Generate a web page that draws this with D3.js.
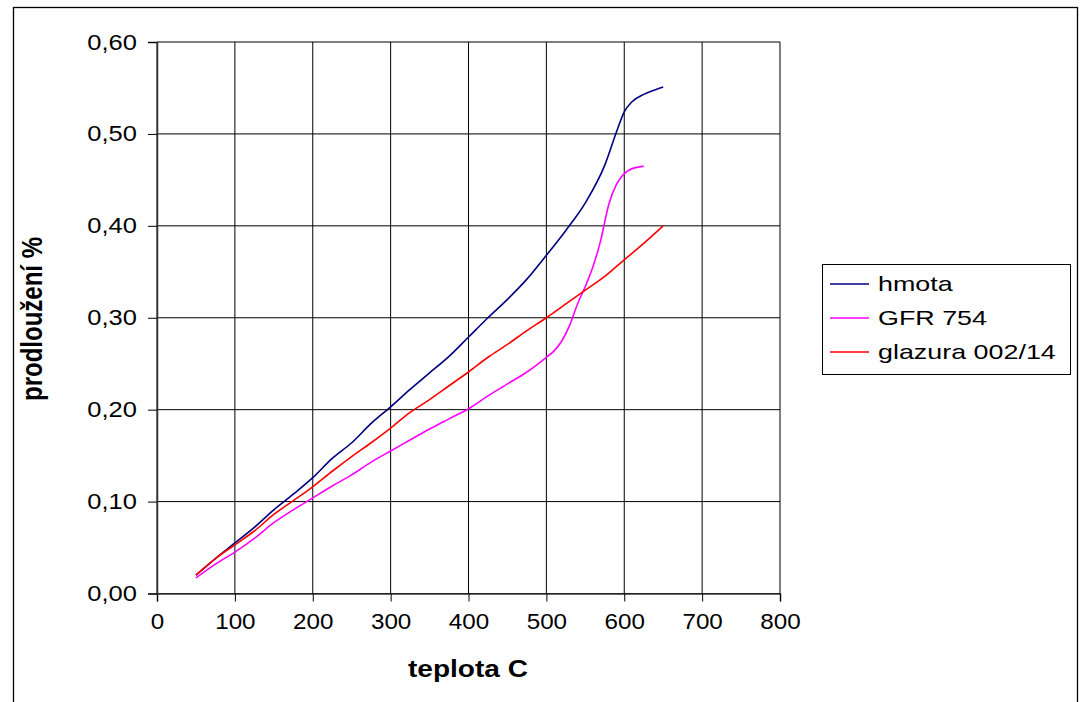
<!DOCTYPE html>
<html>
<head>
<meta charset="utf-8">
<script src="https://cdn.jsdelivr.net/npm/d3@7"></script>
<style>
  body { margin: 0; background: #fff; }
  text { font-family: "Liberation Sans", Arial, sans-serif; fill: #000; }
</style>
</head>
<body>
<div id="chart"></div>
<script>
// temperature (C) and elongation (%) for each sample
var hmotaX = [50, 75, 100, 125, 150, 175, 200, 225, 250, 275, 300, 325, 350, 375, 400, 425, 450, 475, 500, 525, 550, 575, 590, 600, 610, 625, 640, 650];
var hmotaY = [0.020, 0.038, 0.055, 0.072, 0.091, 0.108, 0.126, 0.147, 0.164, 0.185, 0.203, 0.222, 0.240, 0.258, 0.279, 0.300, 0.320, 0.342, 0.368, 0.395, 0.425, 0.466, 0.502, 0.524, 0.535, 0.543, 0.548, 0.551];

var gfrX = [50, 75, 100, 125, 150, 175, 200, 225, 250, 275, 300, 325, 350, 375, 400, 425, 450, 475, 500, 510, 520, 530, 540, 550, 560, 570, 580, 590, 597, 607, 625];
var gfrY = [0.017, 0.032, 0.045, 0.060, 0.077, 0.091, 0.104, 0.117, 0.129, 0.143, 0.155, 0.167, 0.179, 0.190, 0.201, 0.215, 0.228, 0.241, 0.257, 0.264, 0.275, 0.292, 0.315, 0.334, 0.356, 0.385, 0.423, 0.445, 0.454, 0.461, 0.465];

var glazX = [50, 75, 100, 125, 150, 175, 200, 225, 250, 275, 300, 325, 350, 375, 400, 425, 450, 475, 500, 525, 550, 575, 600, 625, 650];
var glazY = [0.020, 0.038, 0.053, 0.068, 0.086, 0.101, 0.116, 0.133, 0.149, 0.164, 0.180, 0.197, 0.211, 0.226, 0.241, 0.257, 0.271, 0.286, 0.300, 0.315, 0.330, 0.345, 0.363, 0.381, 0.400];

var seriesNames = ["hmota", "GFR 754", "glazura 002/14"];
var xTicks = [0, 100, 200, 300, 400, 500, 600, 700, 800];
var yTicks = [0, 0.1, 0.2, 0.3, 0.4, 0.5, 0.6];

var svgWidth = 1083, svgHeight = 702;
var margin = { top: 42, left: 157, right: 303, bottom: 108 };
var width = 780 - margin.left;
var height = 593.5 - margin.top;

var svg = d3.select("#chart").append("svg")
  .attr("width", svgWidth)
  .attr("height", svgHeight);

// outer frame
svg.append("rect")
  .attr("x", 13.5).attr("y", 7.5)
  .attr("width", 1064).attr("height", 720)
  .attr("fill", "none").attr("stroke", "#000").attr("stroke-width", 1.3);

var g = svg.append("g")
  .attr("transform", `translate(${margin.left}, ${margin.top})`);

var x = d3.scaleLinear().domain([0, 800]).range([0, width]);
var y = d3.scaleLinear().domain([0, 0.6]).range([height, 0]);

// grid
g.selectAll(".vgrid").data(xTicks).enter().append("line")
  .attr("x1", d => x(d)).attr("x2", d => x(d))
  .attr("y1", 0).attr("y2", height)
  .attr("stroke", "#000").attr("stroke-width", 1);
g.selectAll(".hgrid").data(yTicks).enter().append("line")
  .attr("x1", 0).attr("x2", width)
  .attr("y1", d => y(d)).attr("y2", d => y(d))
  .attr("stroke", "#000").attr("stroke-width", 1);

var fmt = d => d3.format(".2f")(d).replace(".", ",");

var bottomAxis = d3.axisBottom(x).tickValues(xTicks).tickSize(8).tickPadding(12);
var leftAxis = d3.axisLeft(y).tickValues(yTicks).tickFormat(fmt).tickSize(9).tickPadding(11);

var xg = g.append("g").attr("transform", `translate(0, ${height})`).call(bottomAxis);
var yg = g.append("g").call(leftAxis);

// the original picture is stretched sideways, so the text is too
function stretch(sel, sx) {
  sel.each(function() {
    var t = d3.select(this);
    var tx = +t.attr("x") || 0, ty = +t.attr("y") || 0;
    t.attr("x", 0).attr("y", 0)
      .attr("transform", `translate(${tx}, ${ty}) scale(${sx}, 1)`);
  });
}

[[xg, 1.1], [yg, 1.16]].forEach(function(p) {
  var a = p[0];
  a.select(".domain").attr("stroke", "#333").attr("stroke-width", 1.5);
  a.selectAll(".tick line").attr("stroke", "#000");
  a.selectAll("text").style("font-size", "22px").style("font-family", "Liberation Sans, Arial, sans-serif");
  stretch(a.selectAll("text"), p[1]);
});

var line = d3.line()
  .x(d => x(d[0]))
  .y(d => y(d[1]))
  .curve(d3.curveMonotoneX);

var series = [
  { name: seriesNames[0], xs: hmotaX, ys: hmotaY, color: "#000080" },
  { name: seriesNames[1], xs: gfrX, ys: gfrY, color: "#ff00ff" },
  { name: seriesNames[2], xs: glazX, ys: glazY, color: "#ff0000" }
];

series.forEach(function(s) {
  g.append("path")
    .datum(s.xs.map((v, i) => [v, s.ys[i]]))
    .attr("fill", "none")
    .attr("stroke", s.color)
    .attr("stroke-width", 1.6)
    .attr("d", line);
});

// axis titles
svg.append("text")
  .attr("transform", "translate(468, 677) scale(1.22, 1)")
  .attr("text-anchor", "middle")
  .style("font-size", "23px").style("font-weight", "bold")
  .text("teplota C");

svg.append("text")
  .attr("transform", "translate(42, 319) scale(1.22, 1) rotate(-90)")
  .attr("text-anchor", "middle")
  .style("font-size", "24px").style("font-weight", "bold")
  .text("prodloužení %");

// legend
var legend = svg.append("g").attr("transform", "translate(822, 264)");
legend.append("rect")
  .attr("x", 0.5).attr("y", 0.5)
  .attr("width", 248).attr("height", 110)
  .attr("fill", "#fff").attr("stroke", "#000").attr("stroke-width", 1);

series.forEach(function(s, i) {
  var ly = 20 + i * 34;
  legend.append("line")
    .attr("x1", 8).attr("x2", 47)
    .attr("y1", ly).attr("y2", ly)
    .attr("stroke", s.color).attr("stroke-width", 1.6);
  legend.append("text")
    .attr("transform", `translate(56, ${ly + 7}) scale(1.28, 1)`)
    .style("font-size", "21px")
    .text(s.name);
});
</script>
</body>
</html>
